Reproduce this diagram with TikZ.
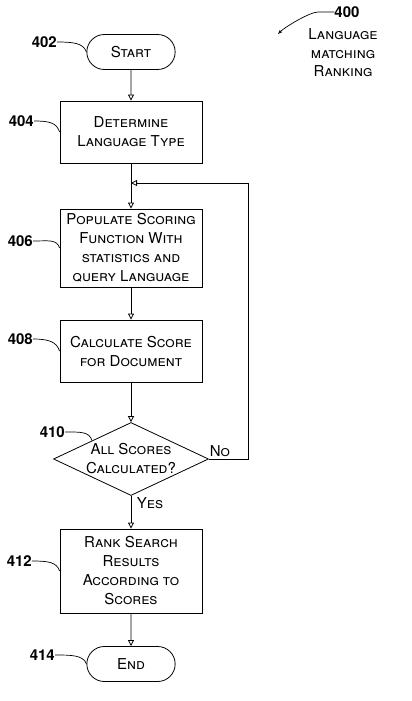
\documentclass[tikz,border=0pt]{standalone}
\usepackage{fontspec}
\setmainfont{TeX Gyre Heros}
\usetikzlibrary{shapes.geometric, shapes.misc, arrows.meta}

\tikzset{
    stepbox/.style={draw, line width=0.8pt, minimum width=142pt, align=center,
        font=\fontsize{15}{19}\selectfont\scshape},
    term/.style={draw, rounded rectangle, line width=0.8pt, minimum width=95pt,
        minimum height=35pt, font=\fontsize{15}{19}\selectfont\scshape},
    txt/.style={align=center, font=\fontsize{15}{19}\selectfont\scshape},
    num/.style={font=\fontsize{15}{16}\selectfont\bfseries, inner sep=0pt},
    lead/.style={line width=0.7pt},
    flow/.style={line width=0.8pt, -{Triangle[open, length=6pt, width=6pt]}}
}

\begin{document}
\begin{tikzpicture}[x=1pt, y=-1pt]
    \useasboundingbox (0,0) rectangle (412,701);

    % Flow steps
    \node[term] (start) at (131,52) {Start};
    \node[stepbox, minimum height=62pt] (determine) at (131,132) {Determine\\Language Type};
    \node[stepbox, minimum height=78pt] (populate) at (131,248)
        {Populate Scoring\\Function With\\statistics and\\query Language};
    \node[stepbox, minimum height=62pt] (calc) at (131,351) {Calculate Score\\for Document};
    \node[draw, diamond, minimum width=155pt, minimum height=73pt, inner sep=0pt,
        line width=0.8pt] (check) at (131,459) {};
    \node[txt] (checktext) at (check) {All Scores\\Calculated?};
    \node[stepbox, minimum height=84pt] (rank) at (131,571)
        {Rank Search\\Results\\According to\\Scores};
    \node[term] (finish) at (131,664) {End};

    % Connectors
    \coordinate (back) at (248,183);
    \coordinate (join) at (131,183);
    \draw[flow] (start) -- (determine);
    \draw[flow] (determine) -- (populate);
    \draw[flow] (populate) -- (calc);
    \draw[flow] (calc) -- (check);
    \draw[flow] (check) -- (rank);
    \draw[flow] (rank) -- (finish);
    \draw[flow] (check.east) -| (back) -- (join);

    % Branch labels
    \node[txt] (no) at (220,451) {No};
    \node[txt] (yes) at (150,503) {Yes};

    % Reference numbers
    \node[num, anchor=east] (l402) at (57,42) {402};
    \node[num, anchor=east] (l404) at (34,121) {404};
    \node[num, anchor=east] (l406) at (33,241) {406};
    \node[num, anchor=east] (l408) at (33,339) {408};
    \node[num, anchor=east] (l410) at (65,432) {410};
    \node[num, anchor=east] (l412) at (32,561) {412};
    \node[num, anchor=east] (l414) at (55,655) {414};
    \draw[lead] (l402.east) .. controls +(16,0) and +(-3,-9) .. (start.west);
    \draw[lead] (l404.east) .. controls +(16,0) and +(-3,-9) .. (determine.west);
    \draw[lead] (l406.east) .. controls +(16,0) and +(-3,-9) .. (populate.west);
    \draw[lead] (l408.east) .. controls +(16,0) and +(-3,-9) .. (calc.west);
    \draw[lead] (l410.east) .. controls +(16,0) and +(-3,-9) .. (check.north west);
    \draw[lead] (l412.east) .. controls +(16,0) and +(-3,-9) .. (rank.west);
    \draw[lead] (l414.east) .. controls +(16,0) and +(-3,-9) .. (finish.west);

    % Figure title
    \node[num] (l400) at (347,12) {400};
    \node[txt, font=\fontsize{15}{18.5}\selectfont\scshape] (title) at (343,53)
        {Language\\matching\\Ranking};
    \coordinate (c400) at (278,34);
    \draw[lead, -{Triangle[open, length=4pt, width=3pt]}]
        (l400.west) -- ++(-16,0) to[out=180, in=45, looseness=0.5] (c400);
\end{tikzpicture}
\end{document}
